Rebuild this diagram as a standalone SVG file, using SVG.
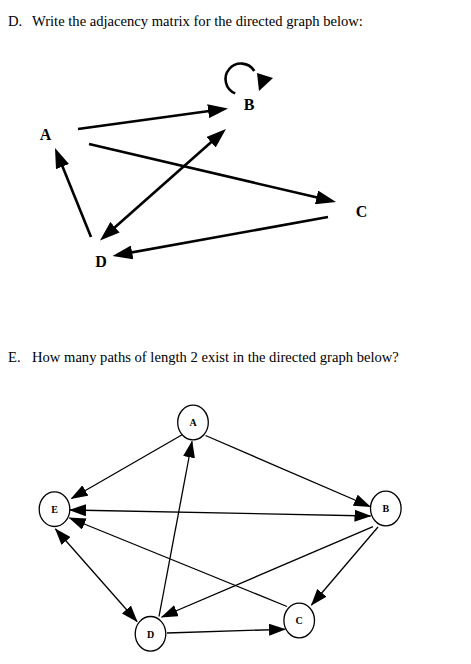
<svg xmlns="http://www.w3.org/2000/svg" width="471" height="664" viewBox="0 0 471 664">
<style>
.q{font-family:"Liberation Serif","Times New Roman",serif;font-size:14.6px;fill:#000}
.tl{font-family:"Liberation Serif","Times New Roman",serif;font-size:16px;font-weight:bold;fill:#000;text-anchor:middle}
.bl{font-family:"Liberation Serif","Times New Roman",serif;font-size:10px;font-weight:bold;fill:#000;text-anchor:middle}
.te{stroke:#000;stroke-width:2.6;fill:none}
.be{stroke:#000;stroke-width:1.3;fill:none}
.nd{fill:#fff;stroke:#000;stroke-width:1.3}
</style>
<defs>
<marker id="th" viewBox="0 0 20 14" markerWidth="20" markerHeight="14" refX="14" refY="7" orient="auto" markerUnits="userSpaceOnUse"><path d="M0,0 L20,7 L0,14 z" fill="#000"/></marker>
<marker id="thr" viewBox="0 0 20 14" markerWidth="20" markerHeight="14" refX="6" refY="7" orient="auto" markerUnits="userSpaceOnUse"><path d="M20,0 L0,7 L20,14 z" fill="#000"/></marker>
<marker id="bh" viewBox="0 0 17 12" markerWidth="17" markerHeight="12" refX="16" refY="6" orient="auto" markerUnits="userSpaceOnUse"><path d="M0,0 L17,6 L0,12 z" fill="#000"/></marker>
<marker id="bhr" viewBox="0 0 17 12" markerWidth="17" markerHeight="12" refX="1" refY="6" orient="auto" markerUnits="userSpaceOnUse"><path d="M17,0 L0,6 L17,12 z" fill="#000"/></marker>
</defs>
<rect width="471" height="664" fill="#fff"/>
<text class="q" x="8" y="25.5">D.</text>
<text class="q" x="32" y="25.5">Write the adjacency matrix for the directed graph below:</text>
<text class="q" x="8" y="361.5">E.</text>
<text class="q" x="32" y="361.5">How many paths of length 2 exist in the directed graph below?</text>
<g id="top-connectors">
<line class="te" x1="78" y1="129" x2="222.05" y2="109.3" marker-end="url(#th)"/>
<line class="te" x1="89" y1="144" x2="330.2" y2="200.6" marker-end="url(#th)"/>
<line class="te" x1="91" y1="237" x2="57.25" y2="153.56" marker-end="url(#th)"/>
<line class="te" x1="104.5" y1="236.5" x2="221.5" y2="133" marker-start="url(#thr)" marker-end="url(#th)"/>
<line class="te" x1="328" y1="217" x2="118.4" y2="254.9" marker-end="url(#th)"/>
<path class="te" stroke-width="2.4" d="M235.2,93.4 A15.5,15.5 0 1 1 254.3,71"/>
<polygon points="257,73 273,78 259,91" fill="#000"/>
</g>
<g id="top-A"><text class="tl" x="45.5" y="140">A</text></g>
<g id="top-B"><text class="tl" x="249" y="110">B</text></g>
<g id="top-C"><text class="tl" x="361.5" y="217">C</text></g>
<g id="top-D"><text class="tl" x="101" y="267">D</text></g>
<g id="bottom-connectors">
<line class="be" x1="181.7" y1="435" x2="71.5" y2="498.5" marker-end="url(#bh)"/>
<line class="be" x1="205.5" y1="435.5" x2="370" y2="506.5" marker-end="url(#bh)"/>
<line class="be" x1="70" y1="510" x2="370.5" y2="516" marker-start="url(#bhr)" marker-end="url(#bh)"/>
<line class="be" x1="287" y1="606.5" x2="69.5" y2="518" marker-end="url(#bh)"/>
<line class="be" x1="55.5" y1="529" x2="137" y2="621.5" marker-start="url(#bhr)" marker-end="url(#bh)"/>
<line class="be" x1="373" y1="526.7" x2="161.7" y2="617" marker-end="url(#bh)"/>
<line class="be" x1="378" y1="527" x2="311.5" y2="605" marker-end="url(#bh)"/>
<line class="be" x1="159" y1="616.5" x2="192" y2="441.5" marker-end="url(#bh)"/>
<line class="be" x1="167" y1="633" x2="285" y2="629.3" marker-end="url(#bh)"/>
</g>
<g id="node-A"><ellipse class="nd" cx="193" cy="422.5" rx="15.3" ry="17.3"/><text class="bl" x="193" y="426.2">A</text></g>
<g id="node-E"><ellipse class="nd" cx="54.5" cy="509.2" rx="15.3" ry="17.3"/><text class="bl" x="54.5" y="512.9">E</text></g>
<g id="node-B"><ellipse class="nd" cx="385.8" cy="508.5" rx="15.3" ry="17.3"/><text class="bl" x="385.8" y="512.2">B</text></g>
<g id="node-C"><ellipse class="nd" cx="299.2" cy="620.5" rx="15.3" ry="17.3"/><text class="bl" x="299.2" y="624.2">C</text></g>
<g id="node-D"><ellipse class="nd" cx="150.5" cy="633.8" rx="15.3" ry="17.3"/><text class="bl" x="150.5" y="637.5">D</text></g>
</svg>
